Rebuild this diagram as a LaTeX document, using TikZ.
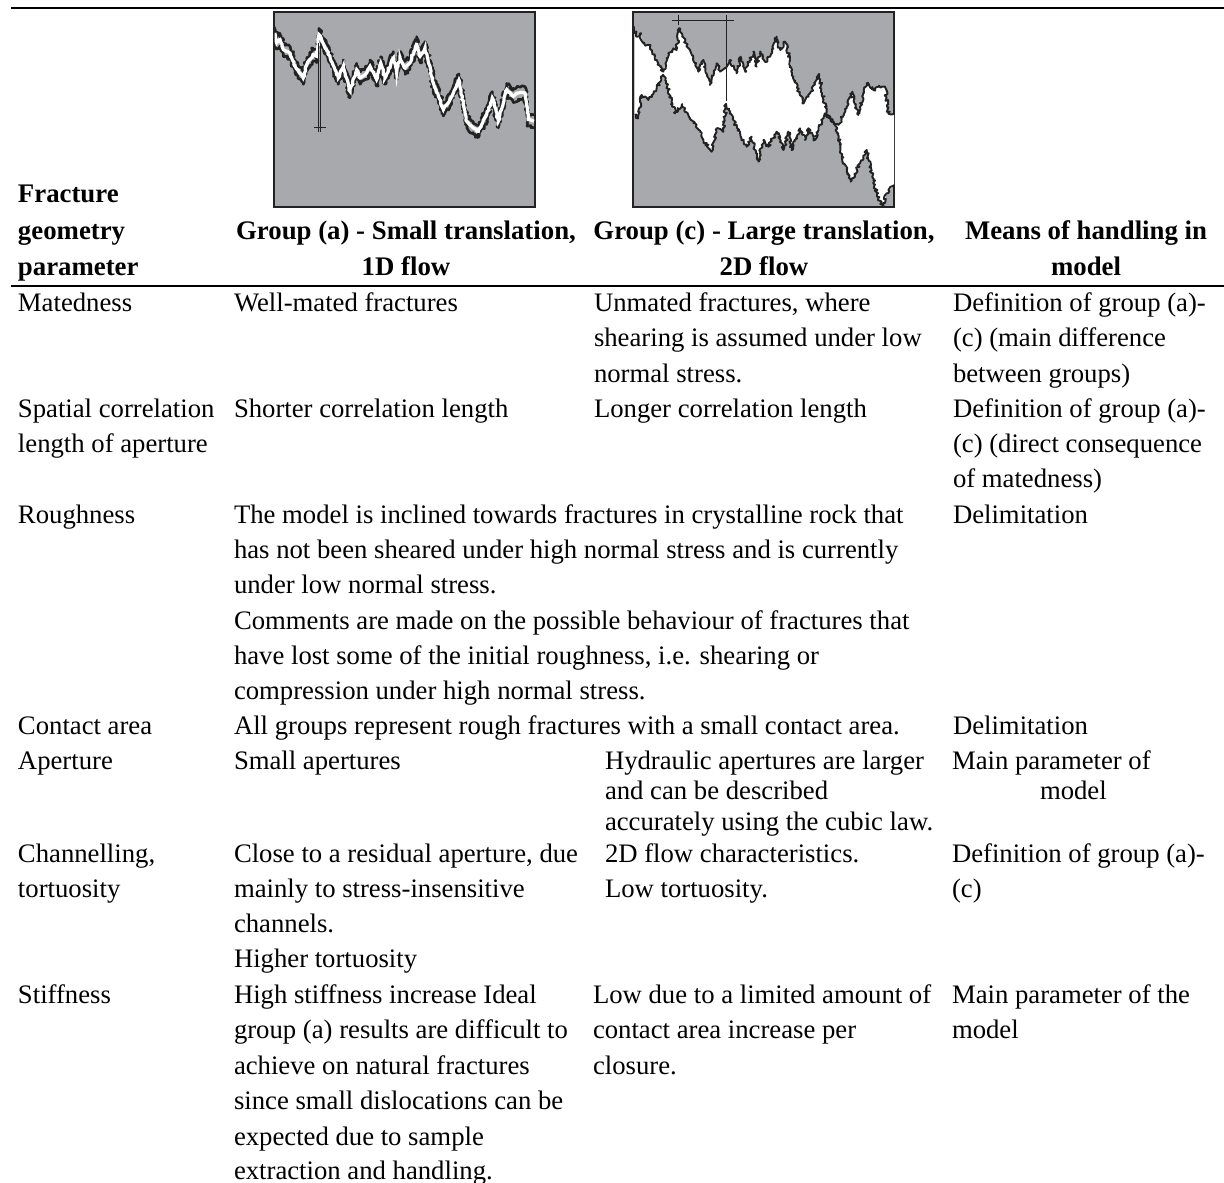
\documentclass[tikz,border=0pt]{standalone}
\usepackage{fontspec}
\setmainfont{Liberation Serif}
\usetikzlibrary{decorations.pathmorphing}
\definecolor{panelgrey}{HTML}{A7A9AC}
\definecolor{inkdark}{HTML}{222222}
\def\crackTop{(44,80) -- (50,110) -- (60,100) -- (70,130) -- (90,140) -- (105,180) -- (130,215) -- (140,175) -- (160,145) -- (170,150) -- (177,85) -- (195,125) -- (210,150) -- (225,190) -- (235,215) -- (250,180) -- (270,255) -- (290,190) -- (300,215) -- (320,200) -- (330,180) -- (350,220) -- (362,170) -- (375,215) -- (400,155) -- (410,200) -- (420,155) -- (435,185) -- (450,170) -- (470,110) -- (480,150) -- (495,125) -- (510,180) -- (520,230) -- (550,310) -- (570,280) -- (597,222) -- (615,320) -- (620,345) -- (640,365) -- (655,375) -- (680,325) -- (697,275) -- (715,345) -- (740,250) -- (760,270) -- (775,260) -- (795,260) -- (805,340) -- (822,345)}
\def\crackBot{(822,555) -- (800,580) -- (790,620) -- (775,595) -- (760,540) -- (740,450) -- (720,490) -- (692,545) -- (665,470) -- (655,400) -- (640,365) -- (615,340) -- (605,360) -- (585,420) -- (565,385) -- (555,420) -- (540,385) -- (515,450) -- (505,395) -- (490,450) -- (470,395) -- (445,440) -- (430,420) -- (415,485) -- (395,410) -- (380,440) -- (362,410) -- (340,360) -- (318,312) -- (310,395) -- (290,385) -- (275,455) -- (250,420) -- (230,375) -- (205,345) -- (185,315) -- (165,340) -- (145,270) -- (130,225) -- (110,265) -- (85,300) -- (65,285) -- (55,355) -- (44,345)}
\tikzset{
  cell/.style={anchor=base west,inner sep=0pt,outer sep=0pt,font=\fontsize{13.35pt}{17.7pt}\selectfont},
  headcell/.style={cell,font=\fontsize{13.4pt}{17.7pt}\selectfont\bfseries},
  headmid/.style={headcell,anchor=base},
  rulebar/.style={line width=1.1pt,black},
  panelbox/.style={fill=panelgrey,draw=inkdark,line width=.7pt},
  jag/.style={decorate,decoration={random steps,segment length=.8pt,amplitude=.8pt},draw=inkdark,line width=.95pt,line join=round},
  jagband/.style={jag,line width=1.3pt},
  whitejag/.style={decorate,decoration={random steps,segment length=1.2pt,amplitude=.35pt},draw=white,line width=1.6pt},
  marker/.style={inkdark,line width=.5pt},
}
\begin{document}
\begin{tikzpicture}[x=.5pt,y=-.5pt]
\useasboundingbox (0,0) rectangle (1224,1182);
\pgfmathsetseed{42}
% rules
\draw[rulebar] (11,8) -- (1224,8);
\draw[rulebar] (11,286) -- (1224,286);
% panel (a)
\draw[panelbox] (274,12) rectangle (535,207);
\begin{scope}[shift={(260,0)},x=.16667pt,y=-.16667pt]
  \clip (44,37) rectangle (825,620);
  \draw[jagband] \crackTop;
  \begin{scope}[yshift=-6.3pt]\draw[jagband] \crackTop;\end{scope}
  \begin{scope}[yshift=-3.15pt]\draw[whitejag] \crackTop;\end{scope}
\end{scope}
\begin{scope}[shift={(260,0)},x=.16667pt,y=-.16667pt]
  \draw[marker] (175,130) -- (175,395);
  \draw[marker] (182,130) -- (182,395);
  \draw[marker] (162,381) -- (197,381);
\end{scope}
% panel (c)
\draw[panelbox] (633,12) rectangle (894,207);
\begin{scope}[shift={(620,0)},x=.16667pt,y=-.16667pt]
  \begin{scope}
    \clip (42,37) rectangle (822,620);
    \fill[white] \crackTop -- \crackBot -- cycle;
    \draw[jag] \crackTop;
    \draw[jag] \crackBot;
  \end{scope}
  \draw[marker] (157,61) -- (342,61);
  \draw[marker] (175,45) -- (175,75);
  \draw[marker] (320,45) -- (320,303);
\end{scope}
% header
\node[headcell] (h1a) at (18,203) {Fracture};
\node[headcell] (h1b) at (18,239) {geometry};
\node[headcell] (h1c) at (18,275) {parameter};
\node[headmid] (h2a) at (406,239) {Group (a) - Small translation,};
\node[headmid] (h2b) at (406,275) {1D flow};
\node[headmid] (h3a) at (764,239) {Group (c) - Large translation,};
\node[headmid] (h3b) at (764,275) {2D flow};
\node[headmid] (h4a) at (1086,239) {Means of handling in};
\node[headmid] (h4b) at (1086,275) {model};
% Matedness
\node[cell] (a1) at (18,311) {Matedness};
\node[cell] (a2) at (234,311) {Well-mated fractures};
\node[cell] (a3) at (594,311) {Unmated fractures, where};
\node[cell] (a3b) at (594,346) {shearing is assumed under low};
\node[cell] (a3c) at (594,382) {normal stress.};
\node[cell] (a4) at (953,311) {Definition of group (a)-};
\node[cell] (a4b) at (953,346) {(c) (main difference};
\node[cell] (a4c) at (953,382) {between groups)};
% Spatial correlation
\node[cell] (b1) at (18,417) {Spatial correlation};
\node[cell] (b1b) at (18,452) {length of aperture};
\node[cell] (b2) at (234,417) {Shorter correlation length};
\node[cell] (b3) at (594,417) {Longer correlation length};
\node[cell] (b4) at (953,417) {Definition of group (a)-};
\node[cell] (b4b) at (953,452) {(c) (direct consequence};
\node[cell] (b4c) at (953,487) {of matedness)};
% Roughness
\node[cell] (c1) at (18,523) {Roughness};
\node[cell] (c2) at (234,523) {The model is inclined towards fractures in crystalline rock that};
\node[cell] (c2b) at (234,558) {has not been sheared under high normal stress and is currently};
\node[cell] (c2c) at (234,593) {under low normal stress.};
\node[cell] (c2d) at (234,629) {Comments are made on the possible behaviour of fractures that};
\node[cell] (c2e) at (234,664) {have lost some of the initial roughness, i.e. shearing or};
\node[cell] (c2f) at (234,699) {compression under high normal stress.};
\node[cell] (c4) at (953,523) {Delimitation};
% Contact area
\node[cell] (d1) at (18,734) {Contact area};
\node[cell] (d2) at (234,734) {All groups represent rough fractures with a small contact area.};
\node[cell] (d4) at (953,734) {Delimitation};
% Aperture
\node[cell] (e1) at (18,769) {Aperture};
\node[cell] (e2) at (234,769) {Small apertures};
\node[cell] (e3) at (605,769) {Hydraulic apertures are larger};
\node[cell] (e3b) at (605,799) {and can be described};
\node[cell] (e3c) at (605,830) {accurately using the cubic law.};
\node[cell] (e4) at (952,769) {Main parameter of};
\node[cell] (e4b) at (1040,799) {model};
% Channelling
\node[cell] (f1) at (18,862) {Channelling,};
\node[cell] (f1b) at (18,897) {tortuosity};
\node[cell] (f2) at (234,862) {Close to a residual aperture, due};
\node[cell] (f2b) at (234,897) {mainly to stress-insensitive};
\node[cell] (f2c) at (234,932) {channels.};
\node[cell] (f2d) at (234,967) {Higher tortuosity};
\node[cell] (f3) at (605,862) {2D flow characteristics.};
\node[cell] (f3b) at (605,897) {Low tortuosity.};
\node[cell] (f4) at (952,862) {Definition of group (a)-};
\node[cell] (f4b) at (952,897) {(c)};
% Stiffness
\node[cell] (g1) at (18,1003) {Stiffness};
\node[cell] (g2) at (234,1003) {High stiffness increase Ideal};
\node[cell] (g2b) at (234,1038) {group (a) results are difficult to};
\node[cell] (g2c) at (234,1074) {achieve on natural fractures};
\node[cell] (g2d) at (234,1109) {since small dislocations can be};
\node[cell] (g2e) at (234,1145) {expected due to sample};
\node[cell] (g2f) at (234,1179) {extraction and handling.};
\node[cell] (g3) at (593,1003) {Low due to a limited amount of};
\node[cell] (g3b) at (593,1038) {contact area increase per};
\node[cell] (g3c) at (593,1074) {closure.};
\node[cell] (g4) at (952,1003) {Main parameter of the};
\node[cell] (g4b) at (952,1038) {model};
\end{tikzpicture}
\end{document}
